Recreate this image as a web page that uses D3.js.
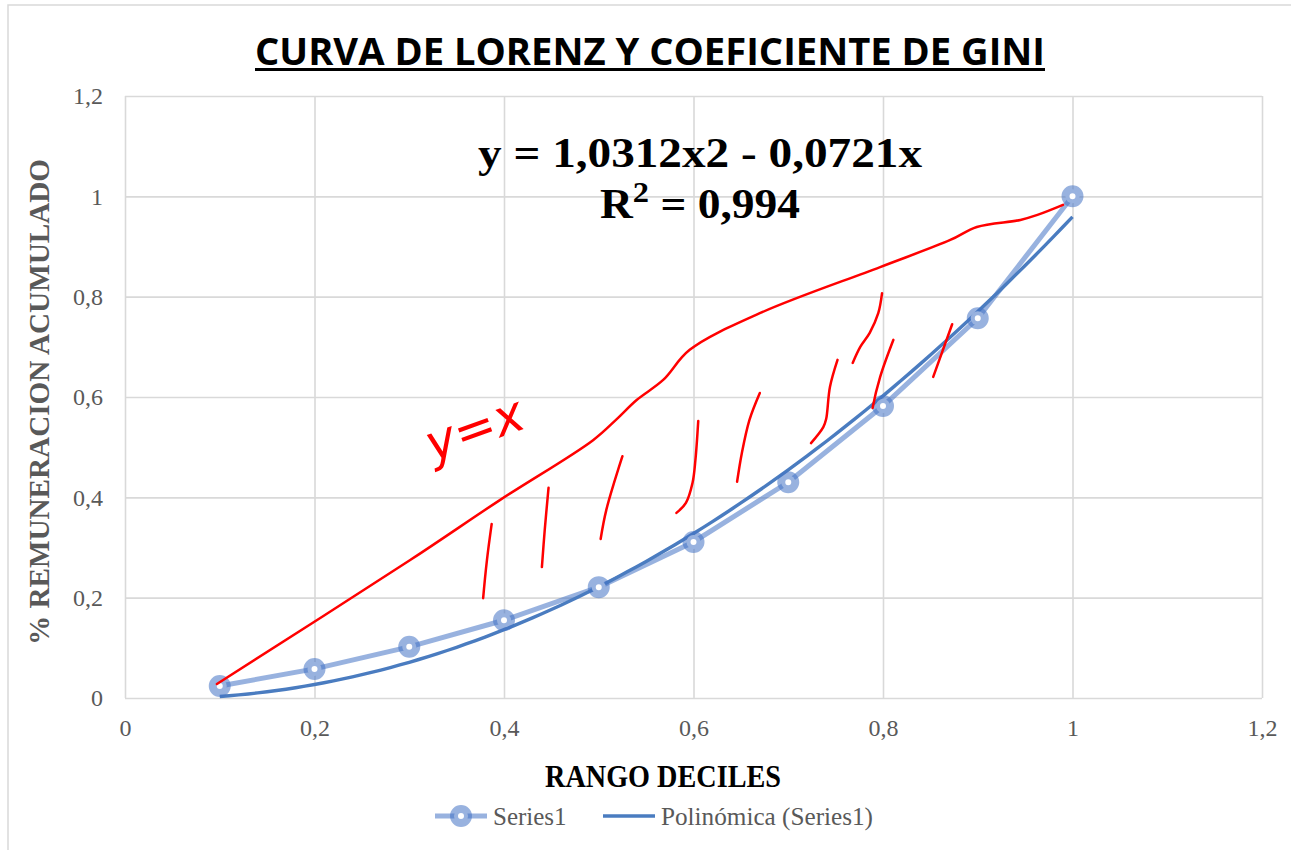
<!DOCTYPE html>
<html>
<head>
<meta charset="utf-8">
<script src="https://cdn.jsdelivr.net/npm/d3@7"></script>
<style>
  body { margin: 0; background: #fff; }
  .tick text { font-family: 'Liberation Serif', serif; font-size: 24px; fill: #595959; }
</style>
</head>
<body>
<div id="chart"></div>
<script>
// deciles and cumulative share (Series1)
var deciles = [0.1, 0.2, 0.3, 0.4, 0.5, 0.6, 0.7, 0.8, 0.9, 1.0];
var acumulado = [0.024, 0.058, 0.102, 0.155, 0.221, 0.311, 0.43, 0.582, 0.757, 1.0];

// polynomial trend shown on the chart: c2*x^2 + c1*x + c0
var trendCoef = [1.0312, -0.0721, 0];

var xTicks = [0, 0.2, 0.4, 0.6, 0.8, 1, 1.2];
var yTicks = [0, 0.2, 0.4, 0.6, 0.8, 1, 1.2];

// hand drawn red marks, in data units
var redLine = [[0.097, 0.028], [0.301, 0.275], [0.396, 0.395], [0.494, 0.514], [0.519, 0.556],
  [0.540, 0.594], [0.568, 0.634], [0.596, 0.694], [0.670, 0.767], [0.797, 0.859],
  [0.871, 0.913], [0.899, 0.939], [0.945, 0.953], [0.963, 0.963], [0.990, 0.983]];
var hatches = [
  [[0.387, 0.347], [0.382, 0.275], [0.378, 0.199]],
  [[0.447, 0.419], [0.443, 0.335], [0.440, 0.261]],
  [[0.525, 0.482], [0.508, 0.375], [0.502, 0.317]],
  [[0.605, 0.552], [0.602, 0.474], [0.599, 0.429], [0.592, 0.389], [0.582, 0.369]],
  [[0.670, 0.608], [0.659, 0.554], [0.651, 0.488], [0.646, 0.431]],
  [[0.752, 0.674], [0.744, 0.620], [0.740, 0.556], [0.737, 0.540], [0.724, 0.508]],
  [[0.799, 0.807], [0.795, 0.767], [0.786, 0.728], [0.776, 0.700], [0.768, 0.668]],
  [[0.811, 0.714], [0.797, 0.640], [0.789, 0.578]],
  [[0.873, 0.745], [0.853, 0.640]],
  [[1.408, -0.303], [1.427, -0.293]]
];
var noteLabel = 'y=x';
var notePos = [0.375, 0.505];

var seriesColor = '#4472C4';
var trendColor = '#4a7cc0';

var fullWidth = 1291, fullHeight = 850;
var margin = {top: 96, right: 29, bottom: 152, left: 125};

var svg = d3.select('#chart').append('svg')
  .attr('width', fullWidth)
  .attr('height', fullHeight);

// chart frame
svg.append('rect')
  .attr('x', 8).attr('y', 5)
  .attr('width', fullWidth).attr('height', fullHeight)
  .style('fill', 'none')
  .style('stroke', '#d9d9d9')
  .style('stroke-width', 1.5);

var x = d3.scaleLinear().domain([0, 1.2]).range([margin.left, fullWidth - margin.right]);
var y = d3.scaleLinear().domain([0, 1.2]).range([fullHeight - margin.bottom, margin.top]);

var fmt = function(d) { return String(+d.toFixed(1)).replace('.', ','); };

var xAxisEle = svg.append('g')
  .attr('transform', 'translate(0,' + y(0) + ')')
  .call(d3.axisBottom(x).tickValues(xTicks).tickFormat(fmt)
    .tickSize(-(y(0) - y(1.2))).tickPadding(21));

var yAxisEle = svg.append('g')
  .attr('transform', 'translate(' + x(0) + ',0)')
  .call(d3.axisLeft(y).tickValues(yTicks).tickFormat(fmt)
    .tickSize(-(x(1.2) - x(0))).tickPadding(22));

[xAxisEle, yAxisEle].forEach(function(a) {
  a.select('.domain').remove();
  a.selectAll('.tick line').style('stroke', '#d9d9d9').style('stroke-width', 1.6);
});

// title
var title = svg.append('text')
  .attr('x', 650).attr('y', 65)
  .style('text-anchor', 'middle')
  .style('font-family', "'Open Sans', sans-serif")
  .style('font-weight', 'bold')
  .style('font-size', '37px')
  .attr('textLength', 790)
  .attr('lengthAdjust', 'spacingAndGlyphs')
  .text('CURVA DE LORENZ Y COEFICIENTE DE GINI');
svg.append('rect')
  .attr('x', 650 - 395).attr('y', 68)
  .attr('width', 790).attr('height', 3)
  .style('fill', '#000');

// axis titles
svg.append('text')
  .attr('x', 663).attr('y', 787)
  .style('text-anchor', 'middle')
  .style('font-family', "'Liberation Serif', serif")
  .style('font-weight', 'bold')
  .style('font-size', '32px')
  .attr('textLength', 236)
  .attr('lengthAdjust', 'spacingAndGlyphs')
  .text('RANGO DECILES');

svg.append('text')
  .attr('transform', 'translate(49,' + 402 + ')rotate(-90)')
  .style('text-anchor', 'middle')
  .style('font-family', "'Liberation Serif', serif")
  .style('font-weight', 'bold')
  .style('font-size', '30px')
  .style('fill', '#595959')
  .attr('textLength', 486)
  .attr('lengthAdjust', 'spacingAndGlyphs')
  .text('% REMUNERACION ACUMULADO');

// trendline
var trendX = d3.range(deciles[0], deciles[deciles.length - 1] + 0.0001, 0.01);
var trend = function(v) { return trendCoef[0] * v * v + trendCoef[1] * v + trendCoef[2]; };

var line = d3.line().x(function(d) { return x(d[0]); }).y(function(d) { return y(d[1]); });

var pts = deciles.map(function(d, i) { return [d, acumulado[i]]; });

svg.append('path')
  .datum(pts)
  .attr('d', line)
  .style('fill', 'none')
  .style('stroke', seriesColor)
  .style('stroke-opacity', 0.55)
  .style('stroke-width', 5);

svg.append('path')
  .datum(trendX.map(function(v) { return [v, trend(v)]; }))
  .attr('d', line)
  .style('fill', 'none')
  .style('stroke', trendColor)
  .style('stroke-width', 3.4);

svg.selectAll('circle.marker').data(pts).enter()
  .append('circle')
  .classed('marker', true)
  .attr('cx', function(d) { return x(d[0]); })
  .attr('cy', function(d) { return y(d[1]); })
  .attr('r', 7)
  .style('fill', '#fff')
  .style('stroke', seriesColor)
  .style('stroke-opacity', 0.55)
  .style('stroke-width', 8);

// trend equation
var eq = svg.append('g')
  .style('font-family', "'Liberation Serif', serif")
  .style('font-weight', 'bold')
  .style('font-size', '42px')
  .style('text-anchor', 'middle');
eq.append('text').attr('x', 700).attr('y', 167)
  .attr('textLength', 444).attr('lengthAdjust', 'spacingAndGlyphs')
  .text('y = 1,0312x2 - 0,0721x');
var r2 = eq.append('text').attr('x', 700).attr('y', 218);
r2.append('tspan').text('R');
r2.append('tspan').attr('dy', -16).style('font-size', '30px').text('2');
r2.append('tspan').attr('dy', 16).text(' = 0,994');
r2.attr('textLength', 200).attr('lengthAdjust', 'spacingAndGlyphs');

// red hand marks
var redCurve = d3.line().curve(d3.curveCatmullRom)
  .x(function(d) { return x(d[0]); }).y(function(d) { return y(d[1]); });
var red = svg.append('g')
  .style('fill', 'none')
  .style('stroke', '#ff0000')
  .style('stroke-width', 2.5)
  .style('stroke-linecap', 'round');
red.append('path').datum(redLine).attr('d', redCurve);
red.selectAll('path.hatch').data(hatches).enter()
  .append('path').classed('hatch', true).attr('d', redCurve);

svg.append('text')
  .attr('transform', 'translate(' + x(notePos[0]) + ',' + y(notePos[1]) + ')rotate(-20)')
  .style('text-anchor', 'middle')
  .style('font-family', "'DejaVu Sans', sans-serif")
  .style('font-style', 'italic')
  .style('font-size', '50px')
  .style('fill', '#ff0000')
  .text(noteLabel);

// legend
var legend = svg.append('g')
  .attr('class', 'legend')
  .style('font-family', "'Liberation Serif', serif")
  .style('font-size', '25px')
  .style('fill', '#595959');

legend.append('line')
  .attr('x1', 435).attr('x2', 487).attr('y1', 816).attr('y2', 816)
  .style('stroke', seriesColor).style('stroke-opacity', 0.55).style('stroke-width', 5);
legend.append('circle')
  .attr('cx', 461).attr('cy', 816).attr('r', 7)
  .style('fill', '#fff').style('stroke', seriesColor)
  .style('stroke-opacity', 0.55).style('stroke-width', 8);
legend.append('text').attr('x', 493).attr('y', 825).text('Series1');

legend.append('line')
  .attr('x1', 603).attr('x2', 655).attr('y1', 816).attr('y2', 816)
  .style('stroke', trendColor).style('stroke-width', 3.4);
legend.append('text').attr('x', 661).attr('y', 825)
  .attr('textLength', 212).attr('lengthAdjust', 'spacingAndGlyphs')
  .text('Polinómica (Series1)');
</script>
</body>
</html>
